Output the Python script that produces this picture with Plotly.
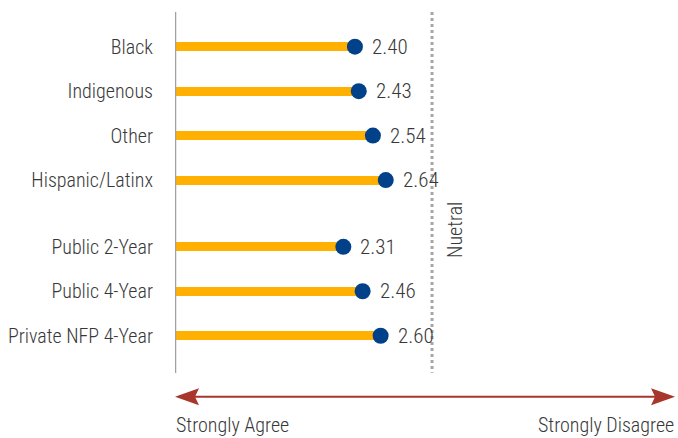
import plotly.graph_objects as go

# Mean agreement scores (1 = Strongly Agree ... 5 = Strongly Disagree)
categories = ["Black", "Indigenous", "Other", "Hispanic/Latinx",
              "Public 2-Year", "Public 4-Year", "Private NFP 4-Year"]
scores = [2.40, 2.43, 2.54, 2.64, 2.31, 2.46, 2.60]
# row positions: race/ethnicity group, a gap, then institution type
rows = [0, 1, 2, 3, 4.5, 5.5, 6.5]

SCALE_MIN = 1
NEUTRAL = 3
X_MAX = 4.914

BAR = "#FFB000"
DOT = "#00418A"
TEXT = "#383838"
GRID = "#A6A6A6"
ARROW = "#A8362B"
FONT = "Roboto Condensed, Liberation Sans, Arial, sans-serif"
FS = 20

fig = go.Figure()

# bars run from the start of the scale to each score
fig.add_trace(go.Bar(
    y=rows, x=[s - SCALE_MIN for s in scores], base=SCALE_MIN,
    orientation="h", width=0.2, marker=dict(color=BAR, line=dict(width=0)),
    hoverinfo="skip", showlegend=False,
))

# dot at each score
fig.add_trace(go.Scatter(
    y=rows, x=scores, mode="markers",
    marker=dict(size=16, color=DOT, line=dict(width=0)),
    showlegend=False, cliponaxis=False,
))

# value labels
for r, s in zip(rows, scores):
    fig.add_annotation(x=s, y=r, text=f"{s:.2f}", showarrow=False,
                       xanchor="left", yanchor="middle", xshift=15,
                       font=dict(size=21, color=TEXT, family=FONT, weight=300))

y_top, y_bot = -0.78, 7.33

# vertical axis line at the start of the scale
fig.add_shape(type="line", x0=SCALE_MIN, x1=SCALE_MIN, y0=y_top, y1=y_bot + 0.01,
              line=dict(color="#A0A0A0", width=2.5), layer="above")

# dotted neutral line
fig.add_shape(type="line", x0=NEUTRAL, x1=NEUTRAL, y0=y_top, y1=y_bot,
              line=dict(color=GRID, width=3, dash="3px,3px"), layer="below")
fig.add_annotation(x=NEUTRAL, y=4.12, text="Nuetral", textangle=-90,
                   showarrow=False, xshift=23,
                   font=dict(size=FS, color=TEXT, family=FONT, weight=300))

# double-headed scale arrow
arrow_y = 7.875
arrow_end = 4.891
fig.add_shape(type="line", x0=SCALE_MIN + 0.1, x1=arrow_end - 0.1, y0=arrow_y, y1=arrow_y,
              line=dict(color=ARROW, width=2))
fig.add_shape(type="path", xsizemode="pixel", ysizemode="pixel",
              xanchor=SCALE_MIN, yanchor=arrow_y,
              path="M0,0 L24,8.5 L20,0 L24,-8.5 Z",
              fillcolor=ARROW, line=dict(width=0))
fig.add_shape(type="path", xsizemode="pixel", ysizemode="pixel",
              xanchor=arrow_end, yanchor=arrow_y,
              path="M0,0 L-24,8.5 L-20,0 L-24,-8.5 Z",
              fillcolor=ARROW, line=dict(width=0))

# scale end labels
end_y = 8.50
fig.add_annotation(x=SCALE_MIN, y=end_y, text="Strongly Agree", showarrow=False,
                   xanchor="left", yanchor="middle", xshift=-1,
                   font=dict(size=FS, color=TEXT, family=FONT, weight=300))
fig.add_annotation(x=X_MAX, y=end_y, text="Strongly Disagree", showarrow=False,
                   xanchor="right", yanchor="middle", xshift=-2,
                   font=dict(size=FS, color=TEXT, family=FONT, weight=300))

fig.update_layout(
    width=678, height=438,
    margin=dict(l=175, r=0, t=0, b=0, autoexpand=False),
    paper_bgcolor="white", plot_bgcolor="white",
    font=dict(family=FONT, color=TEXT, size=FS),
    xaxis=dict(range=[SCALE_MIN, X_MAX], visible=False, fixedrange=True),
    yaxis=dict(range=[8.80, -1.05], tickvals=rows, ticktext=categories,
               showgrid=False, zeroline=False, showline=False, ticks="",
               automargin=False, ticklabelstandoff=21,
               tickfont=dict(size=FS, color=TEXT, family=FONT, weight=300),
               fixedrange=True),
    bargap=0,
)

fig.write_html("out.html", config={"displayModeBar": False})
